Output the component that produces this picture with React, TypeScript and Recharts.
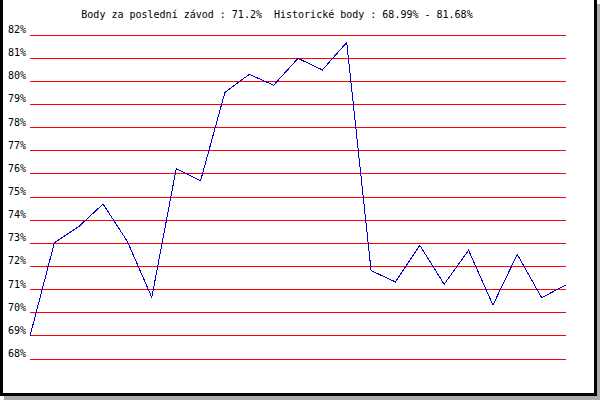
import { LineChart, Line, XAxis, YAxis, CartesianGrid } from "recharts";

// race index -> points (%)
const races = [
  "1", "2", "3", "4", "5", "6", "7", "8", "9", "10", "11", "12",
  "13", "14", "15", "16", "17", "18", "19", "20", "21", "22", "23",
];
const points = [
  68.99, 73.02, 73.72, 74.7, 73.07, 70.66, 76.22, 75.7, 79.52, 80.3, 79.83, 80.99,
  80.49, 81.68, 71.82, 71.33, 72.91, 71.23, 72.7, 70.33, 72.52, 70.65, 71.2,
];
const yTicks = [68, 69, 70, 71, 72, 73, 74, 75, 76, 77, 78, 79, 80, 81, 82];
const title = "Body za poslední závod : 71.2%  Historické body : 68.99% - 81.68%";

const data = races.map((r, i) => ({ race: r, value: points[i] }));

const mono = "'DejaVu Sans Mono', 'Liberation Mono', monospace";

function PctTick(props: any) {
  const { y, payload } = props;
  return (
    <text x={8} y={y - 2} fontFamily={mono} fontSize={10} fill="#000">
      {`${payload.value}%`}
    </text>
  );
}

export default function App() {
  return (
    <div
      style={{
        position: "fixed",
        left: 0,
        top: 0,
        width: 600,
        height: 400,
        background: "#fff",
        overflow: "hidden",
      }}
    >
      {/* frame with shadow */}
      <div
        style={{
          position: "absolute",
          left: 0,
          top: 0,
          width: 597,
          height: 396,
          boxSizing: "border-box",
          borderLeft: "3px solid #000",
          borderRight: "3px solid #000",
          borderBottom: "3px solid #000",
          boxShadow: "4px 4px 0 #aaa",
        }}
      />
      <div
        style={{
          position: "absolute",
          left: 0,
          top: 9,
          width: 554,
          textAlign: "center",
          fontFamily: mono,
          fontSize: 10,
          lineHeight: "12px",
          whiteSpace: "pre",
          color: "#000",
        }}
      >
        {title}
      </div>
      <div style={{ position: "absolute", left: 0, top: 0 }}>
        <LineChart
          width={600}
          height={400}
          data={data}
          margin={{ top: 35, right: 34, bottom: 41, left: 0 }}
        >
          <CartesianGrid
            vertical={false}
            stroke="#ff0000"
            strokeWidth={1}
            shapeRendering="crispEdges"
          />
          <XAxis dataKey="race" hide />
          <YAxis
            domain={[68, 82]}
            ticks={yTicks}
            width={30}
            axisLine={false}
            tickLine={false}
            tick={<PctTick />}
            interval={0}
          />
          <Line
            type="linear"
            dataKey="value"
            stroke="#0000cc"
            strokeWidth={1}
            dot={false}
            activeDot={false}
            isAnimationActive={false}
            shapeRendering="crispEdges"
          />
        </LineChart>
      </div>
    </div>
  );
}
